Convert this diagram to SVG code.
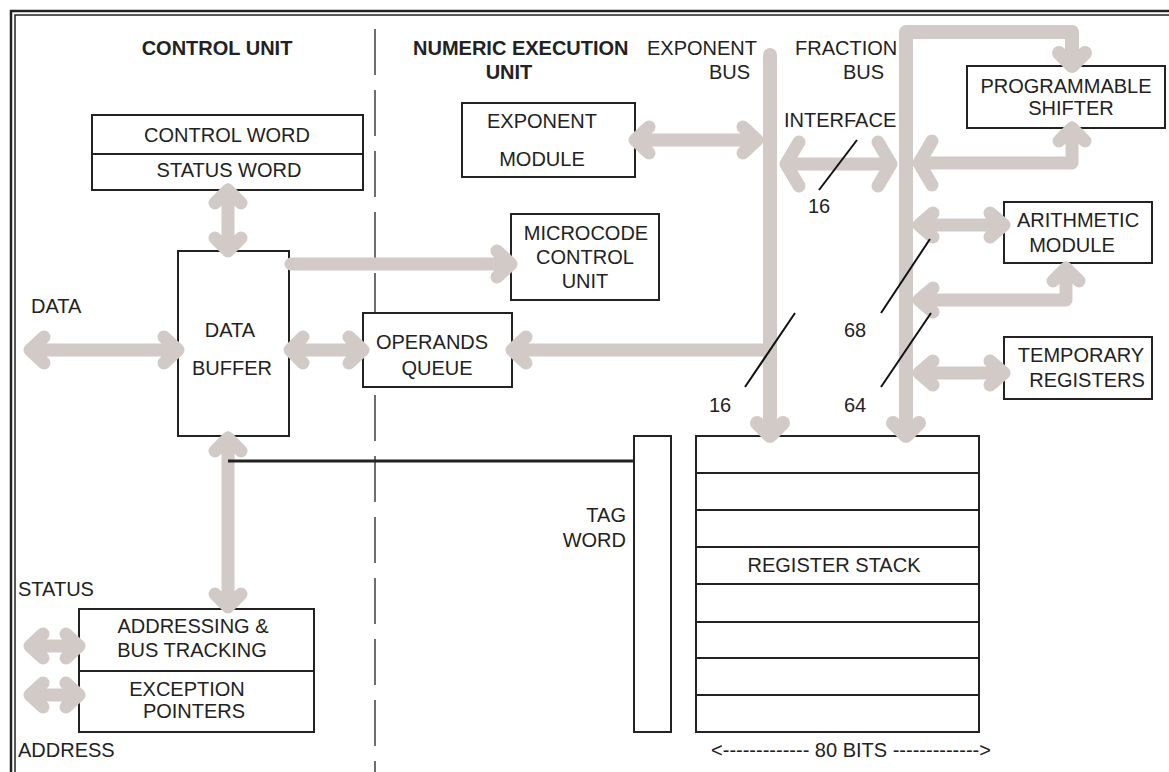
<svg xmlns="http://www.w3.org/2000/svg" width="1169" height="772" viewBox="0 0 1169 772">
<style>
.bx{fill:#fff;stroke:#222;stroke-width:2}
.ln{stroke:#222;stroke-width:2;fill:none}
.t{font-family:"Liberation Sans",Arial,sans-serif;font-size:20px;fill:#222}
.b{font-weight:bold}
.m{text-anchor:middle}
.e{text-anchor:end}
.c{fill:none;stroke:#d1cac7;stroke-width:13;stroke-linecap:round;stroke-linejoin:round}
.bus{stroke-width:14}
.sl{stroke:#111;stroke-width:2}
</style>
<rect width="1169" height="772" fill="#fff"/>
<g id="border" fill="none" stroke="#222">
<path d="M11,772 L11,11 L1169,11" stroke-width="2.5"/>
<path d="M15,772 L15,15 L1169,15" stroke-width="1.5"/>
</g>
<line id="divider" x1="375" y1="29" x2="375" y2="772" stroke="#222" stroke-width="1.3" stroke-dasharray="46 15"/>
<g id="titles">
<text class="t b m" x="217" y="55">CONTROL UNIT</text>
<text class="t b" x="413" y="55">NUMERIC EXECUTION</text>
<text class="t b m" x="509" y="79">UNIT</text>
<text class="t e" x="757" y="55">EXPONENT</text>
<text class="t e" x="750" y="79">BUS</text>
<text class="t" x="795" y="55">FRACTION</text>
<text class="t" x="843" y="79">BUS</text>
<text class="t" x="784" y="127">INTERFACE</text>
<text class="t" x="31" y="313">DATA</text>
<text class="t" x="18" y="596">STATUS</text>
<text class="t" x="18" y="757">ADDRESS</text>
<text class="t m" x="851" y="757">&lt;------------- 80 BITS -------------&gt;</text>
</g>
<g id="control-status-word">
<rect class="bx" x="92" y="115" width="271" height="75"/>
<line class="ln" x1="92" y1="154" x2="363" y2="154"/>
<text class="t m" x="227" y="142">CONTROL WORD</text>
<text class="t m" x="229" y="177">STATUS WORD</text>
</g>
<g id="data-buffer">
<rect class="bx" x="178" y="251" width="111" height="185"/>
<text class="t m" x="230" y="337">DATA</text>
<text class="t m" x="232" y="375">BUFFER</text>
</g>
<g id="operands-queue">
<rect class="bx" x="363" y="313" width="149" height="74"/>
<text class="t m" x="432" y="349">OPERANDS</text>
<text class="t m" x="437" y="375">QUEUE</text>
</g>
<g id="microcode-control-unit">
<rect class="bx" x="511" y="214" width="148" height="86"/>
<text class="t m" x="586" y="240">MICROCODE</text>
<text class="t m" x="585" y="264">CONTROL</text>
<text class="t m" x="585" y="288">UNIT</text>
</g>
<g id="exponent-module">
<rect class="bx" x="462" y="103" width="173" height="74"/>
<text class="t m" x="542" y="128">EXPONENT</text>
<text class="t m" x="542" y="166">MODULE</text>
</g>
<g id="programmable-shifter">
<rect class="bx" x="967" y="66" width="198" height="62"/>
<text class="t m" x="1066" y="93">PROGRAMMABLE</text>
<text class="t m" x="1071" y="115">SHIFTER</text>
</g>
<g id="arithmetic-module">
<rect class="bx" x="1004" y="202" width="148" height="61"/>
<text class="t m" x="1078" y="227">ARITHMETIC</text>
<text class="t m" x="1072" y="252">MODULE</text>
</g>
<g id="temporary-registers">
<rect class="bx" x="1004" y="337" width="148" height="62"/>
<text class="t m" x="1081" y="362">TEMPORARY</text>
<text class="t m" x="1087" y="387">REGISTERS</text>
</g>
<g id="addressing-exception">
<rect class="bx" x="79" y="609" width="235" height="123"/>
<line class="ln" x1="79" y1="671" x2="314" y2="671"/>
<text class="t m" x="193" y="633">ADDRESSING &amp;</text>
<text class="t m" x="192" y="657">BUS TRACKING</text>
<text class="t m" x="187" y="696">EXCEPTION</text>
<text class="t m" x="194" y="718">POINTERS</text>
</g>
<g id="tag-word">
<rect class="bx" x="634" y="436" width="37" height="296"/>
<text class="t e" x="626" y="522">TAG</text>
<text class="t e" x="626" y="547">WORD</text>
</g>
<g id="register-stack">
<rect class="bx" x="696" y="436" width="283" height="296"/>
<g class="ln">
<line x1="696" y1="473" x2="980" y2="473"/>
<line x1="696" y1="510" x2="980" y2="510"/>
<line x1="696" y1="547" x2="980" y2="547"/>
<line x1="696" y1="584" x2="980" y2="584"/>
<line x1="696" y1="622" x2="980" y2="622"/>
<line x1="696" y1="658" x2="980" y2="658"/>
<line x1="696" y1="695" x2="980" y2="695"/>
</g>
<text class="t m" x="834" y="572">REGISTER STACK</text>
</g>
<g id="connectors">
<g class="c">
<path d="M228,190 L228,251 M215,203 L228,190 L241,203 M215,238 L228,251 L241,238"/>
<path d="M30,350 L178,350 M44,337 L30,350 L44,363 M164,337 L178,350 L164,363"/>
<path d="M290,350 L363,350 M303,337 L290,350 L303,363 M349,337 L363,350 L349,363"/>
<path d="M291,264 L511,264 M497,251 L511,264 L497,277"/>
<path d="M228,438 L228,607 M215,451 L228,438 L241,451 M215,594 L228,607 L241,594"/>
<path d="M30,646 L79,646 M43,634 L30,646 L43,658 M66,634 L79,646 L66,658"/>
<path d="M30,695 L79,695 M43,683 L30,695 L43,707 M66,683 L79,695 L66,707"/>
<path d="M635,140 L757,140 M649,127 L635,140 L649,153 M743,127 L757,140 L743,153"/>
<path class="bus" d="M770,55 L770,436 M757,423 L770,436 L783,423"/>
<path d="M770,350 L512,350 M526,337 L512,350 L526,363"/>
<path d="M786,164 L891,164 M799,142 L786,164 L799,186 M878,142 L891,164 L878,186"/>
<path class="bus" d="M906,436 L906,32 L1072,32 L1072,66 M893,423 L906,436 L919,423 M1059,53 L1072,66 L1085,53"/>
<path d="M1072,128 L1072,163 L919,163 M1059,141 L1072,128 L1085,141 M932,141 L919,163 L932,185"/>
<path d="M919,225 L1004,225 M933,213 L919,225 L933,237 M990,213 L1004,225 L990,237"/>
<path d="M1066,268 L1066,300 L919,300 M1053,281 L1066,268 L1079,281 M933,288 L919,300 L933,312"/>
<path d="M919,373 L1004,373 M933,361 L919,373 L933,385 M990,361 L1004,373 L990,385"/>
</g>
<line x1="228" y1="461" x2="634" y2="461" stroke="#222" stroke-width="3"/>
<g class="sl">
<line x1="857" y1="140" x2="819" y2="190"/>
<line x1="795" y1="313" x2="745" y2="387"/>
<line x1="930" y1="239" x2="881" y2="313"/>
<line x1="931" y1="313" x2="881" y2="387"/>
</g>
<text class="t m" x="819" y="213">16</text>
<text class="t m" x="720" y="412">16</text>
<text class="t m" x="855" y="337">68</text>
<text class="t m" x="855" y="412">64</text>
</g>
</svg>
